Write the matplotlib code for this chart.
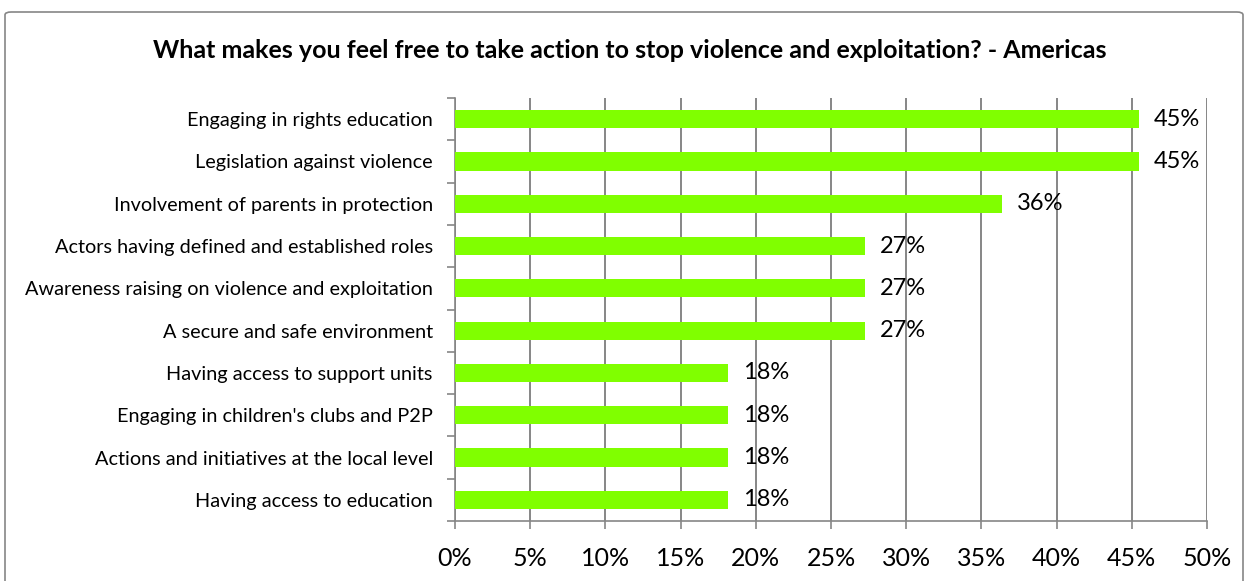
import matplotlib.pyplot as plt
from matplotlib.patches import FancyBboxPatch
from matplotlib.ticker import FuncFormatter

plt.rcParams['font.family'] = ['Lato', 'DejaVu Sans']

categories = [
    "Engaging in rights education",
    "Legislation against violence",
    "Involvement of parents in protection",
    "Actors having defined and established roles",
    "Awareness raising on violence and exploitation",
    "A secure and safe environment",
    "Having access to support units",
    "Engaging in children's clubs and P2P",
    "Actions and initiatives at the local level",
    "Having access to education",
]
values = [45.45, 45.45, 36.36, 27.27, 27.27, 27.27, 18.18, 18.18, 18.18, 18.18]
labels = ["45%", "45%", "36%", "27%", "27%", "27%", "18%", "18%", "18%", "18%"]
xticks = [0, 5, 10, 15, 20, 25, 30, 35, 40, 45, 50]

fig = plt.figure(figsize=(12.48, 5.81), dpi=100)
ax = fig.add_axes([455 / 1248, 1 - 521 / 581, 752 / 1248, 423 / 581])

# chart frame around everything (bottom edge falls below the image)
frame = FancyBboxPatch((5 / 1248, -0.2), 1238 / 1248, 1 - 12 / 581 + 0.2,
                       boxstyle="round,pad=0,rounding_size=0.005",
                       transform=fig.transFigure, fill=False,
                       edgecolor='#868686', linewidth=1.2)
fig.patches.append(frame)

ypos = list(range(len(categories)))
ax.barh(ypos, values, height=0.43, color='#80FF00', zorder=3)
for y, v, lab in zip(ypos, values, labels):
    ax.text(v + 1.0, y, lab, va='center', ha='left', fontsize=17, zorder=4)

ax.set_ylim(len(categories) - 0.5, -0.5)
ax.set_yticks(ypos)
ax.set_yticklabels(categories, fontsize=14.3)
ax.set_yticks([i - 0.5 for i in range(len(categories) + 1)], minor=True)
ax.tick_params(axis='y', which='major', length=0, pad=16)
ax.tick_params(axis='y', which='minor', length=6, color='#868686', width=1.2)

ax.set_xlim(0, 50)
ax.set_xticks(xticks)
ax.xaxis.set_major_formatter(FuncFormatter(lambda x, p: f"{x:.0f}%"))
ax.tick_params(axis='x', length=6, color='#868686', width=1.2, labelsize=18, pad=13)
ax.grid(axis='x', color='#868686', linewidth=1.4, zorder=0)

for side in ['top', 'right']:
    ax.spines[side].set_visible(False)
for side in ['left', 'bottom']:
    ax.spines[side].set_color('#868686')
    ax.spines[side].set_linewidth(1.2)

fig.text(630 / 1248, 1 - 50 / 581,
         "What makes you feel free to take action to stop violence and exploitation? - Americas",
         ha='center', va='center', fontsize=18, fontweight='bold')

fig.savefig('out.png', dpi=100)
